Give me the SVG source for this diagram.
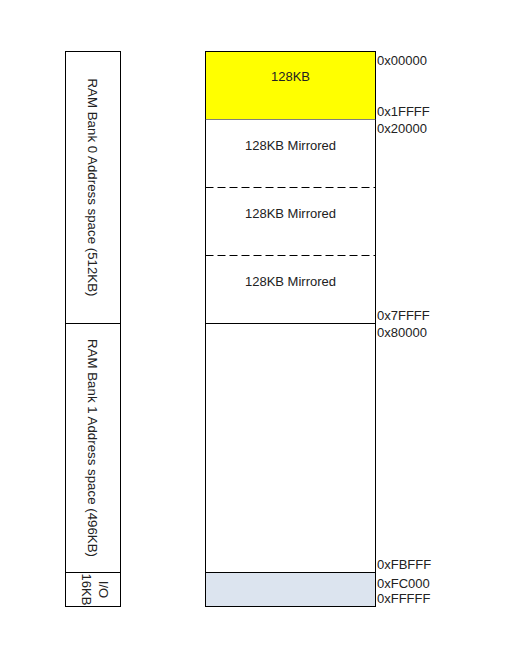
<svg xmlns="http://www.w3.org/2000/svg" width="505" height="661" viewBox="0 0 505 661">
<style>
text{font-family:"Liberation Sans",Arial,sans-serif;font-size:13px;fill:#222}
.c{text-anchor:middle}
.r{font-size:13.3px}
.box{stroke:#000;stroke-width:1}
.dash{stroke:#000;stroke-width:1;stroke-dasharray:8 4;fill:none}
</style>
<rect width="505" height="661" fill="#fff"/>
<g id="bank0-label">
<rect class="box" x="65.5" y="51.5" width="55" height="272" fill="#fff"/>
<text class="c r" transform="translate(88,187.5) rotate(90)">RAM Bank 0 Address space (512KB)</text>
</g>
<g id="bank1-label">
<rect class="box" x="65.5" y="323.5" width="55" height="249" fill="#fff"/>
<text class="c r" transform="translate(88,448) rotate(90)">RAM Bank 1 Address space (496KB)</text>
</g>
<g id="io-label">
<rect class="box" x="65.5" y="572.5" width="55" height="34" fill="#fff"/>
<text class="c" transform="translate(99,589.5) rotate(90)">I/O</text>
<text class="c" transform="translate(82,589.5) rotate(90)">16KB</text>
</g>
<g id="block-128kb">
<rect class="box" x="205.5" y="51.5" width="170" height="68" fill="#ffff00"/>
<text class="c" x="290.5" y="81">128KB</text>
</g>
<g id="mirror1">
<rect x="205.5" y="119.5" width="170" height="68" fill="#fff"/>
<text class="c" x="290.5" y="150">128KB Mirrored</text>
</g>
<g id="mirror2">
<rect x="205.5" y="187.5" width="170" height="68" fill="#fff"/>
<text class="c" x="290.5" y="218">128KB Mirrored</text>
</g>
<g id="mirror3">
<rect x="205.5" y="255.5" width="170" height="68" fill="#fff"/>
<text class="c" x="290.5" y="286">128KB Mirrored</text>
</g>
<g id="bank1">
<rect class="box" x="205.5" y="323.5" width="170" height="249" fill="#fff"/>
</g>
<g id="io">
<rect class="box" x="205.5" y="572.5" width="170" height="34" fill="#dce4ef"/>
</g>
<g id="connectors">
<line x1="205.5" y1="119.5" x2="205.5" y2="323.5" stroke="#000"/>
<line x1="375.5" y1="119.5" x2="375.5" y2="323.5" stroke="#000"/>
<line class="dash" x1="205.5" y1="187.5" x2="375.5" y2="187.5"/>
<line class="dash" x1="205.5" y1="255.5" x2="375.5" y2="255.5"/>
</g>
<g id="addresses">
<text x="377" y="65">0x00000</text>
<text x="377" y="116">0x1FFFF</text>
<text x="377" y="133">0x20000</text>
<text x="377" y="320">0x7FFFF</text>
<text x="377" y="337">0x80000</text>
<text x="377" y="569">0xFBFFF</text>
<text x="377" y="588">0xFC000</text>
<text x="377" y="603">0xFFFFF</text>
</g>
</svg>
